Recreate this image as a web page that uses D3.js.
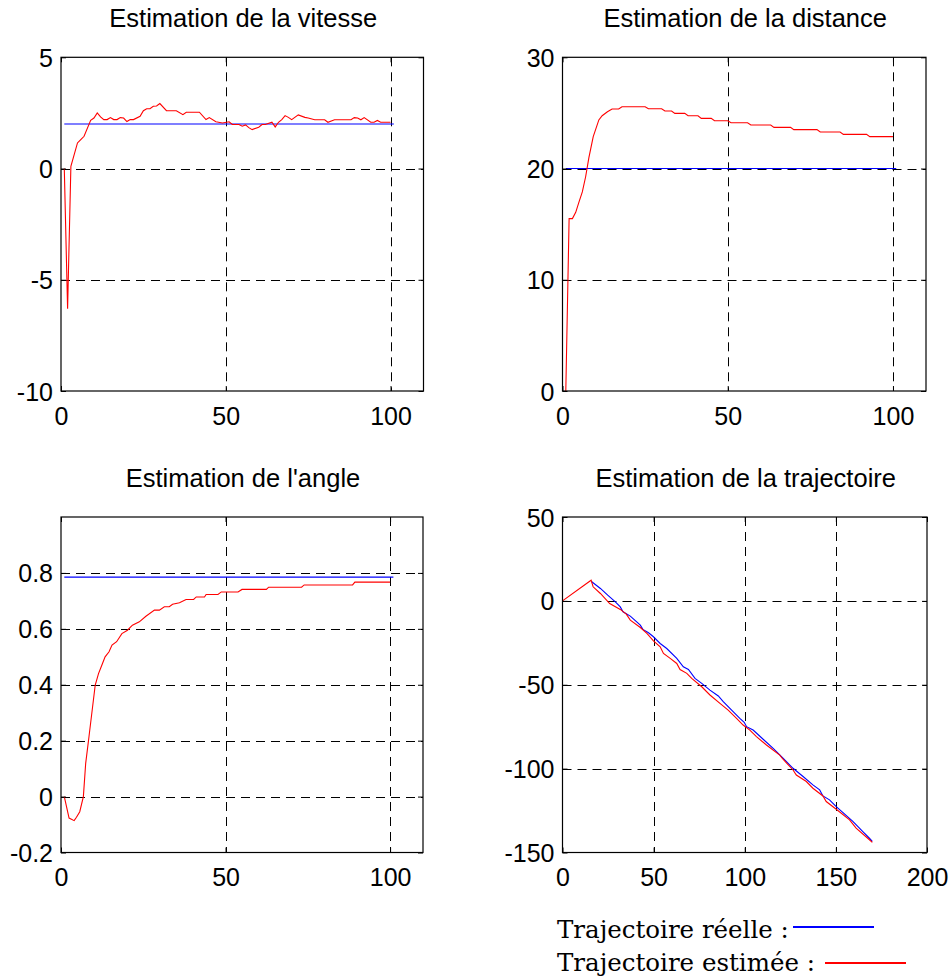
<!DOCTYPE html>
<html>
<head>
<meta charset="utf-8">
<script src="https://cdn.jsdelivr.net/npm/d3@7"></script>
<style>
  html, body { margin: 0; padding: 0; background: #fff; }
  svg { display: block; }
</style>
</head>
<body>
<svg id="fig" width="952" height="976"></svg>
<script>
// ---- Data -------------------------------------------------------------
// Speed estimate (red) and true speed (blue)
const speedEstimated = [[1,0],[2,-6.3],[3,0.1],[5,1.15],[6,1.3],[7,1.45],[9,2.17],[10,2.27],[11,2.5],[12,2.32],[13,2.2],[14,2.2],[15,2.29],[16,2.2],[17,2.2],[18,2.29],[19,2.27],[20,2.11],[21,2.2],[22,2.2],[24,2.35],[25,2.6],[26,2.69],[27,2.69],[28,2.8],[29,2.81],[30,2.92],[32,2.6],[35,2.6],[37,2.42],[38,2.53],[42,2.53],[44,2.2],[45,2.29],[47,2.1],[49,2.05],[51,2.1],[52,1.98],[54,1.98],[55,1.9],[56,1.96],[57,1.84],[58,1.75],[60,1.86],[61,1.98],[62,1.98],[64,2.08],[65,1.87],[66,2.08],[67,2.2],[68,2.38],[69,2.3],[70,2.2],[72,2.41],[74,2.3],[75,2.27],[77,2.19],[80,2.19],[81,2.08],[83,2.19],[88,2.19],[89,2.29],[90,2.27],[91,2.19],[92,2.29],[94,2.08],[95,2.08],[96,2.16],[97,2.08],[100,2.08]];
const speedTrue = [[1,2],[101,2]];

// Distance estimate (red) and true distance (blue)
const distanceEstimated = [[1,0],[2,15.5],[3,15.5],[4,16.06],[5,17.0],[6,17.9],[7,19.26],[8,21.0],[9.3,22.87],[11,24.37],[12,24.75],[13.6,25.1],[15,25.35],[17,25.35],[18,25.56],[25,25.56],[26,25.38],[30,25.38],[31,25.17],[33,25.17],[34,24.96],[37,24.96],[38,24.75],[41,24.75],[42,24.51],[45,24.51],[46,24.3],[50,24.3],[51,24.12],[56,24.12],[57,23.91],[63,23.91],[64,23.7],[69,23.7],[70,23.5],[77,23.5],[78,23.28],[84,23.28],[85,23.07],[92,23.07],[93,22.87],[100,22.87]];
const distanceTrue = [[1,20],[101,20]];

// Angle estimate (red) and true angle (blue)
const angleEstimated = [[1,0],[2.45,-0.077],[4,-0.086],[4.7,-0.074],[5.7,-0.054],[6.8,0],[7.5,0.119],[8.5,0.214],[10.4,0.399],[11.4,0.44],[12.4,0.47],[13.4,0.5],[14.6,0.518],[15.5,0.542],[16.9,0.554],[18.5,0.583],[20.2,0.595],[21.7,0.613],[23.8,0.625],[25.8,0.645],[28.4,0.667],[29.9,0.667],[31.4,0.679],[32.9,0.679],[33.9,0.688],[36,0.693],[38,0.705],[40.3,0.705],[41.1,0.714],[43.6,0.714],[44.1,0.723],[47.7,0.723],[48.7,0.732],[53.8,0.732],[55,0.741],[62.4,0.741],[63.1,0.749],[73.1,0.749],[73.9,0.757],[88.6,0.757],[89.3,0.767],[100,0.767]];
const angleTrue = [[1,0.785],[101,0.785]];

// Trajectory: true (blue) and estimated (red), x/y positions
const trajectoryTrue = [[15.7,11.7],[20.8,7.4],[24.8,3.4],[29,-0.6],[31.7,-3.6],[33.2,-6.5],[37.2,-9.1],[42.7,-14.5],[44.1,-17],[47.2,-19],[49.9,-21.4],[53.6,-25.4],[57.2,-28.4],[62.7,-34.3],[66.3,-39.3],[69.1,-40.9],[72.7,-46.2],[76.4,-49.2],[80.9,-53.2],[85.5,-56.7],[88.2,-60.1],[92.8,-65.1],[97.3,-70],[99.7,-72.4],[101,-75],[104.6,-77],[110.1,-82.5],[115.6,-87.9],[121,-93.8],[126.5,-99.8],[132,-104.7],[137.4,-109.7],[141.1,-112.7],[142.9,-116.3],[146.5,-118.6],[150.2,-122.6],[159.3,-131.5],[164.8,-137.5],[168.4,-141.5],[170,-143.3]];
const trajectoryEstimated = [[0,0],[15.7,12.3],[16.8,8.4],[20.8,4.4],[25.9,-1.6],[31.7,-5.1],[35,-7.9],[37.2,-11.5],[42.7,-15.9],[46.3,-19.4],[49.9,-23.8],[53.6,-27.4],[55.4,-31.3],[59.1,-34.3],[62.7,-37.3],[64.5,-40.9],[68.2,-43.2],[70.9,-46.2],[76.4,-51.2],[80.9,-56.1],[86.4,-61.1],[90.9,-65.1],[95.5,-70],[99.1,-74],[102.8,-77],[106.4,-80.9],[111.9,-85.9],[119.2,-91.9],[121,-94.4],[126.5,-100.8],[128.3,-103.8],[133.8,-107.7],[137.4,-111.7],[142.9,-116.3],[144.7,-119.6],[150.2,-124.2],[157.5,-130.5],[161.1,-135.5],[168.4,-142.4],[170,-144]];

// Titles and ticks
const titles = ["Estimation de la vitesse", "Estimation de la distance", "Estimation de l'angle", "Estimation de la trajectoire"];
const xTicksTime = [0, 50, 100];
const yTicksSpeed = [-10, -5, 0, 5];
const yTicksDistance = [0, 10, 20, 30];
const yTicksAngle = [-0.2, 0, 0.2, 0.4, 0.6, 0.8];
const xTicksTraj = [0, 50, 100, 150, 200];
const yTicksTraj = [-150, -100, -50, 0, 50];
const legendLabels = ["Trajectoire réelle :", "Trajectoire estimée :"];

// ---- Drawing ----------------------------------------------------------
const svg = d3.select("#fig");
const RED = "#ff0000", BLUE = "#0000ff";
const plainFmt = d => String(d); // plain hyphen for negatives, "0" for zero

const panels = [
  { title: titles[0], box: [61, 57.3, 423.5, 391], xDom: [0, 110], yDom: [-10, 5], xTicks: xTicksTime, yTicks: yTicksSpeed,
    series: [{ data: speedTrue, color: BLUE }, { data: speedEstimated, color: RED }] },
  { title: titles[1], box: [562.5, 57.3, 926, 391], xDom: [0, 110], yDom: [0, 30], xTicks: xTicksTime, yTicks: yTicksDistance,
    series: [{ data: distanceTrue, color: BLUE }, { data: distanceEstimated, color: RED }] },
  { title: titles[2], box: [61, 517, 423, 852.5], xDom: [0, 110], yDom: [-0.2, 1], xTicks: xTicksTime, yTicks: yTicksAngle,
    series: [{ data: angleTrue, color: BLUE }, { data: angleEstimated, color: RED }] },
  { title: titles[3], box: [562.5, 517, 927, 852.5], xDom: [0, 200], yDom: [-150, 50], xTicks: xTicksTraj, yTicks: yTicksTraj,
    series: [{ data: trajectoryTrue, color: BLUE }, { data: trajectoryEstimated, color: RED }] }
];

const tickFont = "'Liberation Sans', Arial, Helvetica, sans-serif";

panels.forEach(p => {
  const [x0, y0, x1, y1] = p.box;
  const x = d3.scaleLinear().domain(p.xDom).range([x0, x1]);
  const y = d3.scaleLinear().domain(p.yDom).range([y1, y0]);
  const g = svg.append("g");

  // dashed grid
  const grid = g.append("g").attr("stroke", "#000").attr("stroke-width", 1).attr("stroke-dasharray", "9,6").attr("fill", "none");
  p.xTicks.filter(t => x(t) > x0 + 1 && x(t) < x1 - 1).forEach(t => {
    grid.append("line").attr("x1", Math.round(x(t)) + 0.5).attr("x2", Math.round(x(t)) + 0.5).attr("y1", y0).attr("y2", y1);
  });
  p.yTicks.filter(t => y(t) > y0 + 1 && y(t) < y1 - 1).forEach(t => {
    grid.append("line").attr("y1", Math.round(y(t)) + 0.5).attr("y2", Math.round(y(t)) + 0.5).attr("x1", x0).attr("x2", x1);
  });

  // data lines
  const line = d3.line().x(d => x(d[0])).y(d => y(d[1]));
  p.series.forEach(s => {
    g.append("path").datum(s.data).attr("d", line).attr("fill", "none").attr("stroke", s.color).attr("stroke-width", 1.1);
  });

  // axes with inward ticks on all four sides
  const tl = 5;
  const bottom = d3.axisBottom(x).tickValues(p.xTicks).tickSizeInner(-tl).tickSizeOuter(0).tickFormat(plainFmt);
  const top = d3.axisTop(x).tickValues(p.xTicks).tickSizeInner(-tl).tickSizeOuter(0).tickFormat("");
  const left = d3.axisLeft(y).tickValues(p.yTicks).tickSizeInner(-tl).tickSizeOuter(0).tickFormat(plainFmt);
  const right = d3.axisRight(y).tickValues(p.yTicks).tickSizeInner(-tl).tickSizeOuter(0).tickFormat("");

  const axes = [
    g.append("g").attr("transform", `translate(0,${y1})`).call(bottom),
    g.append("g").attr("transform", `translate(0,${y0})`).call(top),
    g.append("g").attr("transform", `translate(${x0},0)`).call(left),
    g.append("g").attr("transform", `translate(${x1},0)`).call(right)
  ];
  axes.forEach(a => {
    a.select(".domain").remove();
    a.selectAll("line").attr("stroke", "#000");
    a.selectAll("text").attr("fill", "#000").style("font-family", tickFont).style("font-size", "25px");
  });
  axes[0].selectAll("text").attr("dy", null).attr("y", 33.5);
  axes[2].selectAll("text").attr("x", -8).attr("dy", "0.36em");

  // box
  g.append("rect").attr("x", x0).attr("y", y0).attr("width", x1 - x0).attr("height", y1 - y0)
    .attr("fill", "none").attr("stroke", "#000").attr("stroke-width", 1.2);

  // title
  g.append("text").attr("x", (x0 + x1) / 2 + 1).attr("y", y0 - 30.5).attr("text-anchor", "middle")
    .style("font-family", tickFont).style("font-size", "25.5px").attr("fill", "#000").text(p.title);
});

// legend for the trajectory panel
const legend = svg.append("g").style("font-family", "'DejaVu Serif', serif").style("font-size", "24.5px");
const legendRows = [
  { label: legendLabels[0], color: BLUE, y: 938, lx: [793, 874], ly: 927 },
  { label: legendLabels[1], color: RED, y: 971, lx: [825, 906], ly: 963 }
];
legendRows.forEach(r => {
  legend.append("text").attr("x", 557).attr("y", r.y).attr("fill", "#000").text(r.label);
  legend.append("line").attr("x1", r.lx[0]).attr("x2", r.lx[1]).attr("y1", r.ly).attr("y2", r.ly)
    .attr("stroke", r.color).attr("stroke-width", 2);
});
</script>
</body>
</html>
